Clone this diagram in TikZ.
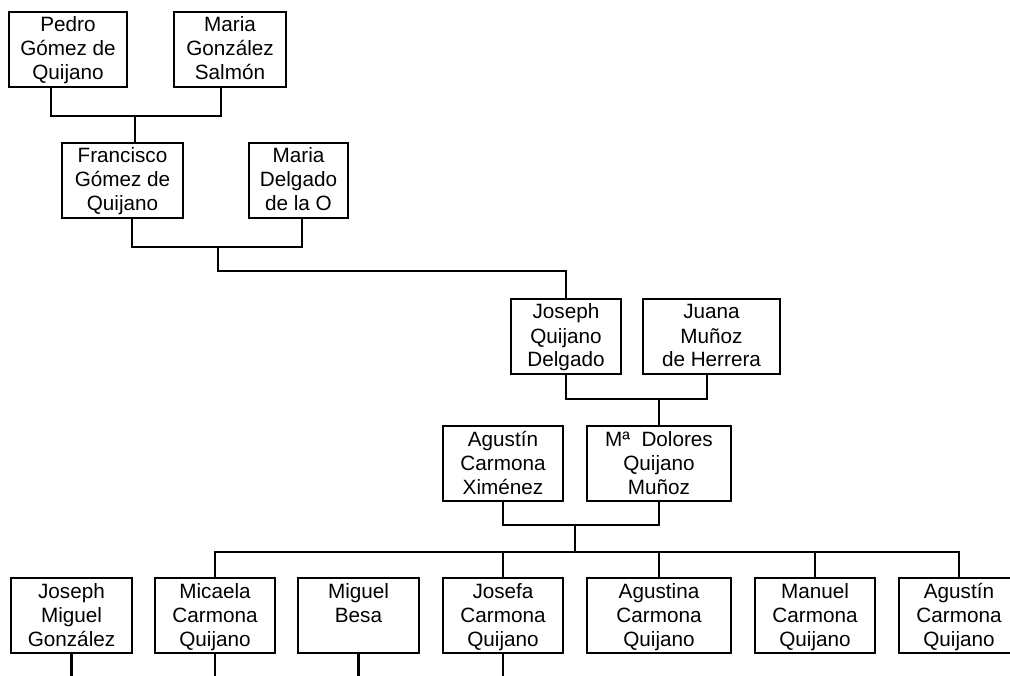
\documentclass[tikz,border=0pt]{standalone}
\usepackage{fontspec}
\setmainfont{Liberation Sans}
\tikzset{
  pbox/.style={draw=black, line width=2.6pt, rectangle, inner sep=0pt, outer sep=0pt, minimum height=75pt, fill=white},
  ptext/.style={anchor=north, inner sep=0pt, align=center, font=\fontsize{20.7}{24}\selectfont},
  conn/.style={draw=black, line width=2.1pt, line cap=rect}
}
\newcommand\pperson[5]{%
  \node[pbox, minimum width=#4pt] (#1) at (#2,#3) {};
  \node[ptext] (#1-t) at ([yshift=-3pt]#1.north) {\strut #5};}
\begin{document}
\begin{tikzpicture}[x=1pt,y=-1pt]
\useasboundingbox (0,0) rectangle (1010,676);
\fill[white] (0,0) rectangle (1010,676);
\clip (0,0) rectangle (1010,676);
% junction points
\coordinate (j1) at (135,116);
\coordinate (j2) at (218,247);
\coordinate (j3) at (659,399);
\coordinate (j4) at (575,525);
\coordinate (bar) at (575,552);
% boxes
\pperson{pedro}{68}{49.5}{118}{Pedro\\Gómez de\\Quijano}
\pperson{mgs}{230}{49.5}{112}{Maria\\González\\Salmón}
\pperson{fran}{122.5}{180.5}{121}{Francisco\\Gómez de\\Quijano}
\pperson{mdel}{298.5}{180.5}{99}{Maria\\Delgado\\de la O}
\pperson{jqd}{566}{336.5}{110}{Joseph\\Quijano\\Delgado}
\pperson{juana}{711.5}{336.5}{137}{Juana\\Muñoz\\de Herrera}
\pperson{acx}{503}{463.5}{120}{Agustín\\Carmona\\Ximénez}
\pperson{mdq}{659}{463.5}{144}{Mª\ \ Dolores\\Quijano\\Muñoz}
\pperson{jmg}{71.5}{615.5}{121}{Joseph\\Miguel\\González}
\pperson{mcq}{215}{615.5}{120}{Micaela\\Carmona\\Quijano}
\pperson{mb}{358.5}{615.5}{121}{Miguel\\Besa}
\pperson{jcq}{503}{615.5}{120}{Josefa\\Carmona\\Quijano}
\pperson{agcq}{659}{615.5}{144}{Agustina\\Carmona\\Quijano}
\pperson{mncq}{815}{615.5}{120}{Manuel\\Carmona\\Quijano}
\pperson{atcq}{959}{615.5}{120}{Agustín\\Carmona\\Quijano}
% generation 1 -> 2
\draw[conn] ([xshift=-17pt]pedro.south) |- (j1) -| ([xshift=-9pt]mgs.south);
\draw[conn] (j1) -- (fran.north -| j1);
% generation 2 -> 3
\draw[conn] ([xshift=9.5pt]fran.south) |- (j2) -| ([xshift=3.5pt]mdel.south);
\draw[conn] (j2) -- ++(0,24) -| (jqd.north);
% generation 3 -> 4
\draw[conn] (jqd.south) |- (j3) -| ([xshift=-4.5pt]juana.south);
\draw[conn] (j3) -- (mdq.north);
% generation 4 -> 5
\draw[conn] (acx.south) |- (j4) -| (mdq.south);
\draw[conn] (j4) -- (bar);
\draw[conn] (mcq.north) |- (bar) -| (atcq.north);
\draw[conn] (jcq.north) -- (jcq.north |- bar);
\draw[conn] (agcq.north) -- (agcq.north |- bar);
\draw[conn] (mncq.north) -- (mncq.north |- bar);
% lines below bottom row
\draw[conn] (jmg.south) -- ++(0,30);
\draw[conn] (mcq.south) -- ++(0,30);
\draw[conn] (mb.south) -- ++(0,30);
\draw[conn] (jcq.south) -- ++(0,30);
\end{tikzpicture}
\end{document}
